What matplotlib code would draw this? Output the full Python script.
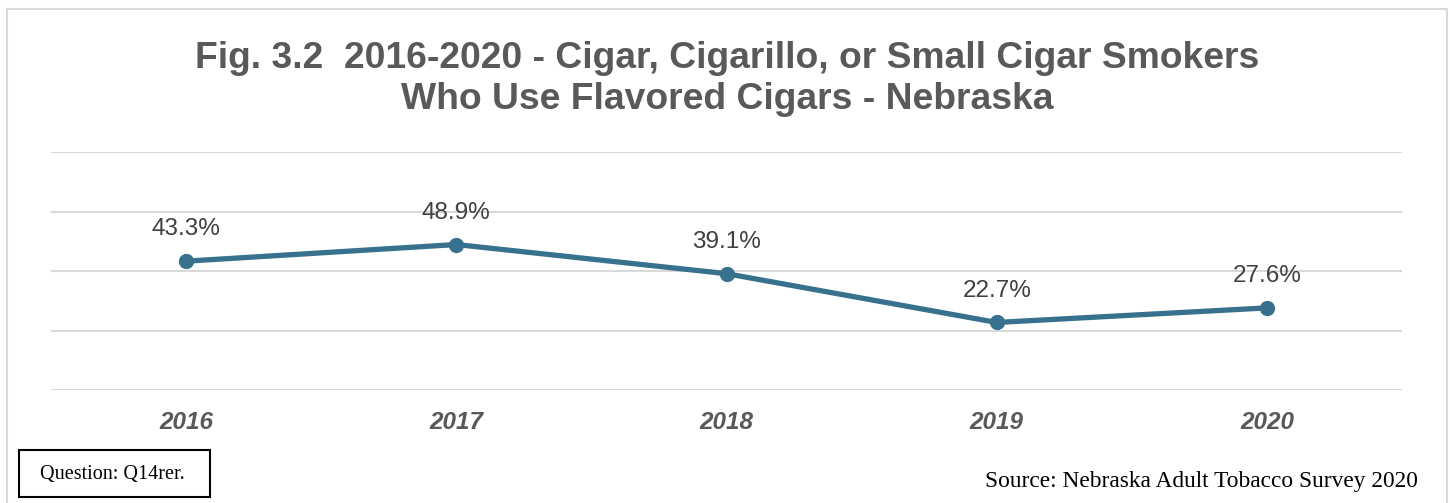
import matplotlib.pyplot as plt
from matplotlib.patches import Rectangle

years = ["2016", "2017", "2018", "2019", "2020"]
pct_flavored = [43.3, 48.9, 39.1, 22.7, 27.6]
grid_levels = [0, 20, 40, 60, 80]

title = ("Fig. 3.2  2016-2020 - Cigar, Cigarillo, or Small Cigar Smokers\n"
         "Who Use Flavored Cigars - Nebraska")
source = "Source: Nebraska Adult Tobacco Survey 2020"
question = "Question: Q14rer."

line_color = "#37718E"
grid_color = "#D9D9D9"
W, H = 1450, 503

fig = plt.figure(figsize=(W / 100, H / 100), dpi=100)

# outer chart frame
fig.patches.append(Rectangle((7 / W, -0.1), 1440 / W, 1.1 - 9 / H,
                             transform=fig.transFigure, fill=False,
                             edgecolor=grid_color, linewidth=1.5))

ax = fig.add_axes([51 / W, (H - 390) / H, 1351 / W, 238 / H])
x = list(range(len(years)))
ax.plot(x, pct_flavored, color=line_color, linewidth=3.8,
        marker="o", markersize=10, solid_capstyle="round", zorder=3)
for xi, v in zip(x, pct_flavored):
    ax.annotate(f"{v:.1f}%", (xi, v), xytext=(0, 23), textcoords="offset points",
                ha="center", va="center", fontsize=17.5, color="#404040",
                family="Liberation Sans")

for g in grid_levels:
    ax.axhline(g, color=grid_color, linewidth=1.5, zorder=1)

ax.set_xlim(-0.5, len(years) - 0.5)
ax.set_ylim(0, 80)
ax.set_yticks([])
ax.set_xticks(x)
ax.set_xticklabels(years, fontsize=17.5, fontweight="bold", fontstyle="italic",
                   color="#595959", family="Liberation Sans")
ax.tick_params(axis="x", length=0, pad=15)
for s in ax.spines.values():
    s.set_visible(False)

fig.text(0.5015, 1 - 79 / H, title, ha="center", va="center", fontsize=26.8,
         fontweight="bold", color="#595959", family="Liberation Sans",
         linespacing=1.22)

fig.text(1418 / W, 1 - 481 / H, source, ha="right", va="center",
         fontsize=16.8, color="black", family="Liberation Serif")

fig.patches.append(Rectangle((19 / W, 1 - 497 / H), 191 / W, 47 / H,
                             transform=fig.transFigure, fill=False,
                             edgecolor="black", linewidth=1.5))
fig.text(112 / W, 1 - 474 / H, question, ha="center", va="center",
         fontsize=14.5, color="black", family="Liberation Serif")

fig.savefig("out.png", dpi=100)
